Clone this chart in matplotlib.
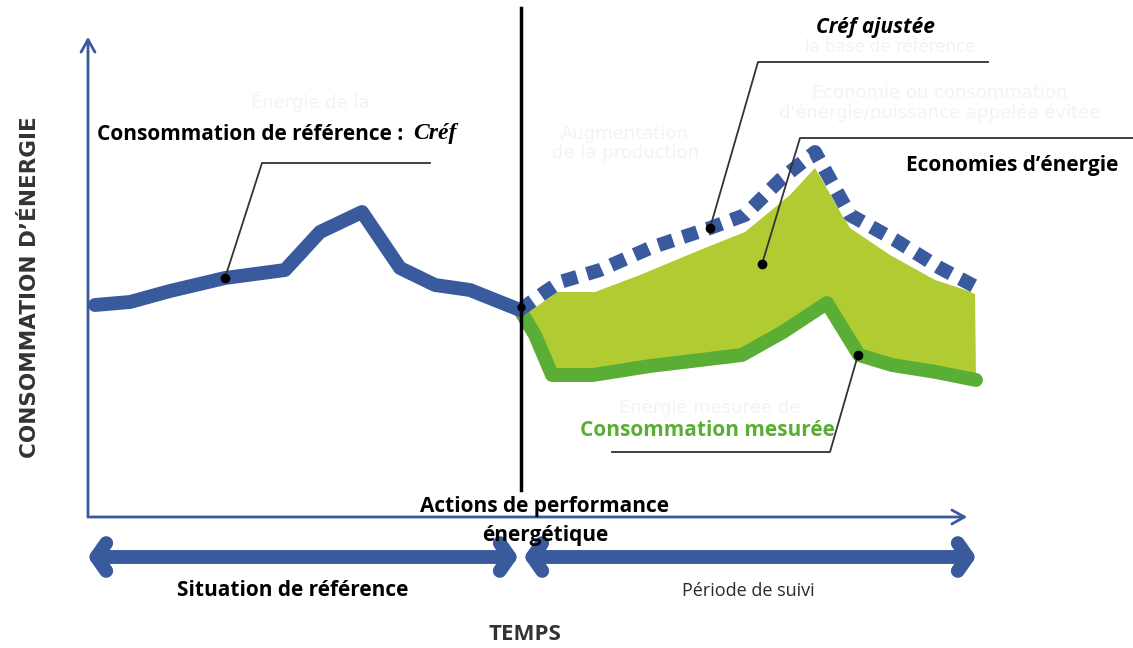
import numpy as np
import matplotlib.pyplot as plt

# horizontal position (time) and consumption height
t_ref = [95, 130, 170, 225, 285, 320, 362, 400, 435, 470, 520]
c_ref = [343, 346, 357, 370, 378, 416, 436, 380, 363, 358, 338]

t_adj = [520, 545, 560, 600, 650, 710, 745, 780, 815, 850, 895, 940, 978]
c_adj = [338, 356, 366, 378, 400, 420, 433, 468, 496, 433, 408, 380, 360]

t_top = [521, 545, 595, 640, 700, 745, 790, 815, 850, 890, 935, 975]
c_top = [345, 356, 356, 373, 398, 416, 453, 480, 420, 393, 368, 355]

t_mes = [520, 535, 552, 593, 650, 742, 783, 827, 859, 892, 936, 976]
c_mes = [338, 313, 273, 273, 282, 293, 316, 345, 293, 283, 276, 268]

blue = '#3a5a9e'
green = '#5aae35'
fill_green = '#b1cb33'

fig = plt.figure(figsize=(11.33, 6.48), dpi=100)
ax = fig.add_axes([0, 0, 1, 1])
ax.set_xlim(0, 1133)
ax.set_ylim(0, 648)
ax.axis('off')

# faint background texts
ghost = '#f3f3f3'
ax.text(310, 540, "Énergie de la", color=ghost, fontsize=13, ha='center')
ax.text(625, 490, "Augmentation\nde la production", color=ghost, fontsize=13, ha='center', linespacing=1.1)
ax.text(940, 530, "Économie ou consommation\nd'énergie/puissance appelée évitée", color=ghost, fontsize=13,
        ha='center', linespacing=1.1)
ax.text(890, 596, "la base de référence", color=ghost, fontsize=12, ha='center')
ax.text(710, 235, "Énergie mesurée de", color=ghost, fontsize=13, ha='center')

# axes
ax.annotate('', xy=(88, 614), xytext=(88, 128),
            arrowprops=dict(arrowstyle='->,head_length=0.9,head_width=0.5', lw=2, color=blue))
ax.annotate('', xy=(970, 131), xytext=(87, 131),
            arrowprops=dict(arrowstyle='->,head_length=0.9,head_width=0.5', lw=2, color=blue))

# savings area
ax.fill(t_top + t_mes[::-1], c_top + c_mes[::-1], color=fill_green, lw=0, zorder=2)

# measured consumption
ax.plot(t_mes, c_mes, color=green, lw=10, solid_capstyle='round', solid_joinstyle='round', zorder=3)

# adjusted baseline: white underlay + blue dashes
ax.plot(t_adj, c_adj, color='white', lw=10, solid_capstyle='butt', zorder=4)
ax.plot(t_adj, c_adj, color=blue, lw=10, dashes=(1.1, 0.75), dash_capstyle='butt', zorder=5)

# reference consumption
ax.plot(t_ref, c_ref, color=blue, lw=10, solid_capstyle='round', solid_joinstyle='round', zorder=4)

# vertical action line
ax.plot([521, 521], [640, 158], color='black', lw=2.5, zorder=6)
ax.plot(521, 341, 'o', color='black', ms=5, zorder=7)

# leader lines
gray = '#333333'
ax.plot([225, 262, 430], [370, 485, 485], color=gray, lw=1.3, zorder=6)
ax.plot(225, 370, 'o', color='black', ms=6, zorder=7)
ax.plot([710, 758, 988], [420, 586, 586], color=gray, lw=1.3, zorder=6)
ax.plot(710, 420, 'o', color='black', ms=6, zorder=7)
ax.plot([762, 800, 1133], [384, 510, 510], color=gray, lw=1.3, zorder=6)
ax.plot(762, 384, 'o', color='black', ms=6, zorder=7)
ax.plot([858, 830, 612], [293, 196, 196], color=gray, lw=1.3, zorder=6)
ax.plot(858, 293, 'o', color='black', ms=6, zorder=7)

# period arrows
ax.annotate('', xy=(88, 91), xytext=(518, 91),
            arrowprops=dict(arrowstyle='<->,head_length=0.7,head_width=1.0', lw=10, color=blue,
                            shrinkA=0, shrinkB=0))
ax.annotate('', xy=(524, 91), xytext=(976, 91),
            arrowprops=dict(arrowstyle='<->,head_length=0.7,head_width=1.0', lw=10, color=blue,
                            shrinkA=0, shrinkB=0))

# labels
sans = ['Open Sans', 'DejaVu Sans']
ax.text(97, 513, "Consommation de référence : ", fontsize=15, fontweight='bold',
        family=sans, va='center', ha='left')
ax.text(413, 515, "Créf", fontsize=17, fontweight='bold', style='italic',
        family=['Liberation Serif', 'DejaVu Serif'], va='center', ha='left')
ax.text(875, 620, "Créf ajustée", fontsize=15, fontweight='bold', style='italic',
        family=sans, va='center', ha='center', zorder=8)
ax.text(1012, 483, "Economies d’énergie", fontsize=15, fontweight='bold',
        family=sans, va='center', ha='center')
ax.text(707, 218, "Consommation mesurée", fontsize=15, fontweight='bold', color=green,
        family=sans, va='center', ha='center')
ax.text(545, 127, "Actions de performance\nénergétique", fontsize=15, fontweight='bold',
        family=sans, va='center', ha='center', linespacing=1.55, zorder=8)
ax.text(293, 57, "Situation de référence", fontsize=15, fontweight='bold',
        family=sans, va='center', ha='center')
ax.text(748, 57, "Période de suivi", fontsize=13, color='#2a2a2a',
        family=sans, va='center', ha='center')
ax.text(525, 13, "TEMPS", fontsize=16, fontweight='bold', color='#333333',
        family=sans, va='center', ha='center')
ax.text(30, 361, "CONSOMMATION D’ÉNERGIE", fontsize=15.5, fontweight='bold', color='#333333',
        family=['DejaVu Sans'], rotation=90, va='center', ha='center')

fig.savefig('out.png', dpi=100)
